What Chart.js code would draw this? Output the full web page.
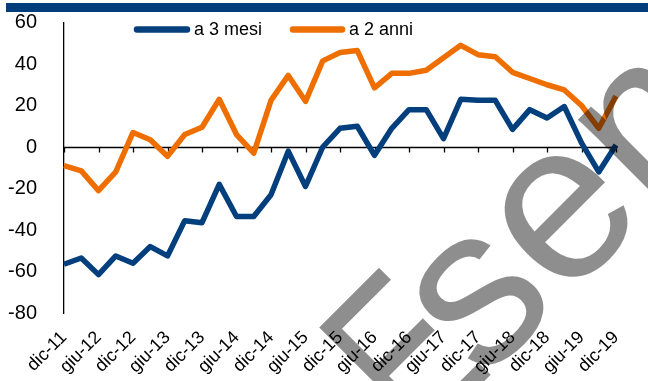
<!DOCTYPE html>
<html>
<head>
<meta charset="utf-8">
<script src="https://cdn.jsdelivr.net/npm/chart.js@4/dist/chart.umd.min.js"></script>
<style>
  html, body { margin: 0; padding: 0; background: #fff; }
  #wrap { position: relative; width: 648px; height: 381px; overflow: hidden; }
  #band { position: absolute; left: 6px; top: 3px; width: 642px; height: 9px; background: #033d7b; }
  canvas { position: absolute; left: 0; top: 0; }
</style>
</head>
<body>
<div id="wrap">
  <canvas id="c" width="648" height="381"></canvas>
  <div id="band"></div>
</div>
<script>
// Quarterly observations, Dec 2011 - Dec 2019
const periods = [
  'dic-11','mar-12','giu-12','set-12','dic-12','mar-13','giu-13','set-13','dic-13',
  'mar-14','giu-14','set-14','dic-14','mar-15','giu-15','set-15','dic-15',
  'mar-16','giu-16','set-16','dic-16','mar-17','giu-17','set-17','dic-17',
  'mar-18','giu-18','set-18','dic-18','mar-19','giu-19','set-19','dic-19'
];

const seriesNames = ['a 3 mesi', 'a 2 anni'];

const threeMonths = [
  -56.5, -53.5, -61.5, -52.5, -56, -48, -52.5, -35.5, -36.5,
  -18, -33.5, -33.5, -23, -2, -19, 0, 9,
  10, -4, 9, 18, 18, 4, 23, 22.5,
  22.5, 8.5, 18, 14, 19.5, 2, -12, 1
];

const twoYears = [
  -9, -11.5, -21, -12, 7, 3.5, -4.5, 6, 9.5,
  23, 6, -3, 22.5, 34.5, 22, 41.5, 45.5,
  46.5, 28.5, 35.5, 35.5, 37, 43, 49, 44.5,
  43.5, 36, 33, 30, 27.5, 20, 9, 24.5
];

const yTicks = [60, 40, 20, 0, -20, -40, -60, -80];

const BLUE = '#033f7d';
const ORANGE = '#ef6e00';
const FONT = '"Liberation Sans", Arial, sans-serif';

// Zero line with half-year tick marks, drawn beneath the series
const zeroAxis = {
  id: 'zeroAxis',
  beforeDatasetsDraw(chart) {
    const { ctx, scales: { x, y }, chartArea } = chart;
    const y0 = Math.round(y.getPixelForValue(0)) + 0.5;
    ctx.save();
    ctx.strokeStyle = '#000';
    ctx.lineWidth = 1.3;
    ctx.beginPath();
    ctx.moveTo(chartArea.left, y0);
    ctx.lineTo(chartArea.right, y0);
    for (let i = 0; i < periods.length; i += 2) {
      const px = Math.round(x.getPixelForValue(i)) + 0.5;
      ctx.moveTo(px, y0);
      ctx.lineTo(px, y0 + 5);
    }
    ctx.stroke();
    ctx.restore();
  }
};

// Legend placed inside the plot, near the top
const innerLegend = {
  id: 'innerLegend',
  afterDatasetsDraw(chart) {
    const { ctx } = chart;
    const items = [
      { x: 134, w: 56, color: BLUE, text: seriesNames[0] },
      { x: 290, w: 55, color: ORANGE, text: seriesNames[1] }
    ];
    const ly = 29.5;
    ctx.save();
    ctx.font = '18px ' + FONT;
    ctx.textBaseline = 'middle';
    ctx.fillStyle = '#000';
    items.forEach(it => {
      ctx.strokeStyle = it.color;
      ctx.lineWidth = 6.5;
      ctx.lineCap = 'round';
      ctx.beginPath();
      ctx.moveTo(it.x + 3, ly);
      ctx.lineTo(it.x + it.w - 3, ly);
      ctx.stroke();
      ctx.fillText(it.text, it.x + it.w + 4, ly + 1);
    });
    ctx.restore();
  }
};

// Diagonal translucent watermark laid over the whole figure.
// Each letter gets its own offset along the baseline (and a horizontal squeeze for E)
// to give the word its tight, geometric spacing.
const wmLetters = [
  { ch: 'E', a: -19, sx: 0.72 },
  { ch: 's', a: 71,  sx: 1 },
  { ch: 'e', a: 184, sx: 1 },
  { ch: 'm', a: 309, sx: 1 },
  { ch: 'p', a: 496, sx: 1 },
  { ch: 'i', a: 621, sx: 1 },
  { ch: 'o', a: 671, sx: 1 }
];
const watermark = {
  id: 'watermark',
  afterDraw(chart) {
    const { ctx } = chart;
    ctx.save();
    ctx.rotate(-Math.PI / 4);
    ctx.font = '225px ' + FONT;
    ctx.fillStyle = 'rgba(0,0,0,0.445)';
    ctx.textBaseline = 'alphabetic';
    wmLetters.forEach(l => {
      ctx.save();
      ctx.translate(l.a, 612);
      ctx.scale(l.sx, 1);
      ctx.fillText(l.ch, 0, 0);
      ctx.restore();
    });
    ctx.restore();
  }
};

new Chart(document.getElementById('c'), {
  type: 'line',
  data: {
    labels: periods,
    datasets: [
      {
        label: seriesNames[0],
        data: threeMonths,
        borderColor: BLUE,
        backgroundColor: BLUE,
        borderWidth: 5.5,
        pointRadius: 0,
        tension: 0,
        borderJoinStyle: 'round'
      },
      {
        label: seriesNames[1],
        data: twoYears,
        borderColor: ORANGE,
        backgroundColor: ORANGE,
        borderWidth: 5.5,
        pointRadius: 0,
        tension: 0,
        borderJoinStyle: 'round'
      }
    ]
  },
  options: {
    responsive: false,
    animation: false,
    devicePixelRatio: 1,
    layout: { padding: { top: 22.5, right: 32, left: 0, bottom: 0 } },
    plugins: {
      legend: { display: false },
      tooltip: { enabled: false }
    },
    scales: {
      x: {
        type: 'category',
        offset: false,
        grid: { display: false },
        border: { display: false },
        afterFit(scale) {
          scale.height = 68;
          scale.paddingLeft = 0;
          scale.paddingRight = 0;
        },
        ticks: {
          autoSkip: false,
          maxRotation: 45,
          minRotation: 45,
          padding: 6,
          color: '#000',
          font: { family: FONT, size: 18 },
          callback(value, index) {
            return index % 2 === 0 ? periods[index] : null;
          }
        }
      },
      y: {
        min: -80,
        max: 60,
        grid: { display: false },
        border: { display: true, color: '#000', width: 1.3 },
        afterFit(scale) {
          scale.width = 64;
          scale.paddingTop = 0;
          scale.paddingBottom = 0;
        },
        afterBuildTicks(scale) { scale.ticks = yTicks.map(v => ({ value: v })); },
        ticks: {
          padding: 19,
          color: '#000',
          font: { family: FONT, size: 20 }
        }
      }
    }
  },
  plugins: [zeroAxis, innerLegend, watermark]
});
</script>
</body>
</html>
